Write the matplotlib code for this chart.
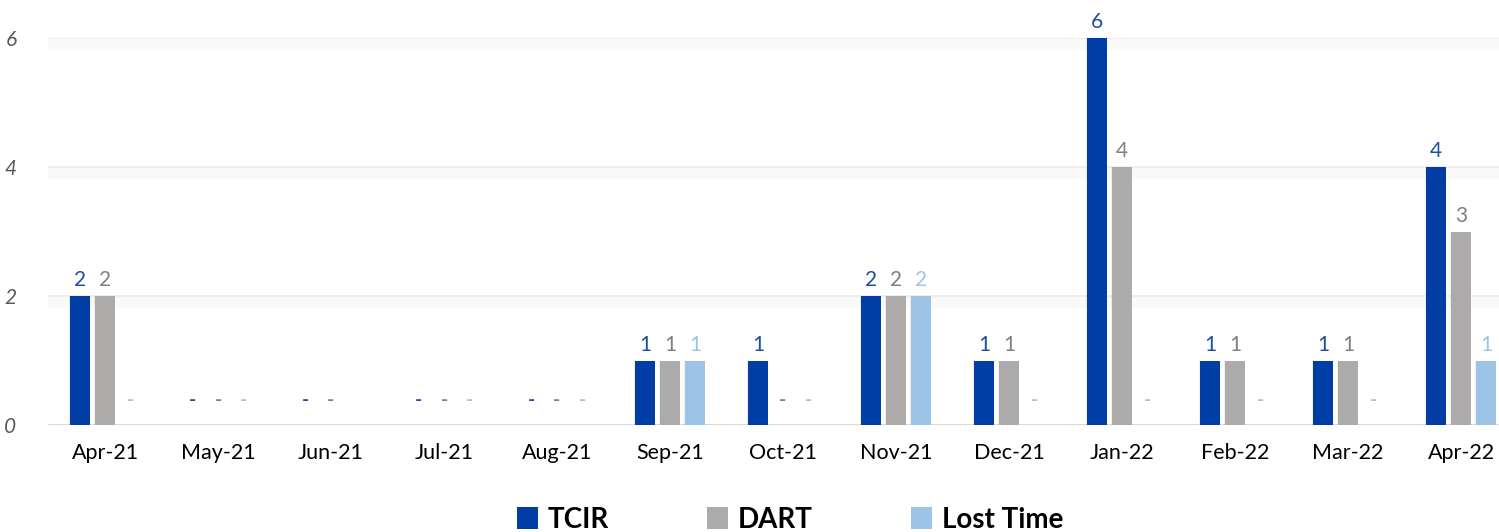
import numpy as np
import matplotlib.pyplot as plt
from matplotlib.patches import Patch

plt.rcParams['font.family'] = ['Lato', 'DejaVu Sans']

months = ["Apr-21", "May-21", "Jun-21", "Jul-21", "Aug-21", "Sep-21", "Oct-21",
          "Nov-21", "Dec-21", "Jan-22", "Feb-22", "Mar-22", "Apr-22"]
tcir = [2, 0, 0, 0, 0, 1, 1, 2, 1, 6, 1, 1, 4]
dart = [2, 0, 0, 0, 0, 1, 0, 2, 1, 4, 1, 1, 3]
lost_time = [0, 0, None, 0, 0, 1, 0, 2, 0, 0, 0, 0, 1]   # Jun-21 has no label at all

series = [("TCIR", tcir, "#003DA5", "#1F4E9E"),
          ("DART", dart, "#ADAAAA", "#808080"),
          ("Lost Time", lost_time, "#9DC3E6", "#9DC3E6")]

fig = plt.figure(figsize=(14.99, 5.32), dpi=100)
W, H = 1499, 532
# plot area runs a bit past the right edge, like the original export
ax = fig.add_axes([48.5 / W, 1 - 425 / H, 1469 / W, (425 - 38) / H])

x = np.arange(len(months))
step = 0.222
width = 0.17

# gridlines with faint shadow band underneath
for yv in [2, 4, 6]:
    ax.axhline(yv, color="#EBEBEB", lw=1.2, zorder=0)
    ax.axhline(yv - 0.1, color="#F9F9F9", lw=8, zorder=0)
ax.axhline(0, color="#D9D9D9", lw=1.5, zorder=1)

for i, (name, vals, col, lab_col) in enumerate(series):
    xs = x + (i - 1) * step
    for xi, v in zip(xs, vals):
        if v is None:
            continue
        if v > 0:
            # soft shadow at left edge
            ax.bar(xi - 0.012, v, width, color="#000000", alpha=0.06, zorder=2, linewidth=0)
            ax.bar(xi, v, width, color=col, zorder=3, linewidth=0)
            ax.annotate(str(v), (xi, v), xytext=(0, 7), textcoords="offset points",
                        ha="center", va="baseline", fontsize=15, color=lab_col,
                        annotation_clip=False)
        else:
            ax.annotate("-", (xi, 0), xytext=(0, 14), textcoords="offset points",
                        ha="center", va="baseline", fontsize=14, color=lab_col,
                        fontweight="bold", annotation_clip=False)

ax.set_xlim(-0.5, len(months) - 0.5)
ax.set_ylim(0, 6)
ax.set_yticks([0, 2, 4, 6])
ax.set_yticklabels(["0", "2", "4", "6"], fontstyle="italic", color="#595959", fontsize=15)
ax.set_xticks(x)
ax.set_xticklabels(months, fontsize=15.5, color="#000000")
ax.tick_params(axis="both", length=0)
ax.tick_params(axis="x", pad=13)
ax.tick_params(axis="y", pad=23)
for s in ax.spines.values():
    s.set_visible(False)

handles = [Patch(facecolor=c, edgecolor="none") for _, _, c, _ in series]
fig.legend(handles, [s[0] for s in series], loc="lower center", ncol=3,
           bbox_to_anchor=(0.527, -0.048), frameon=False, handlelength=0.75,
           handleheight=0.8, handletextpad=0.35, columnspacing=3.55,
           prop={"weight": "bold", "size": 20})

fig.savefig("out.png", dpi=100)
